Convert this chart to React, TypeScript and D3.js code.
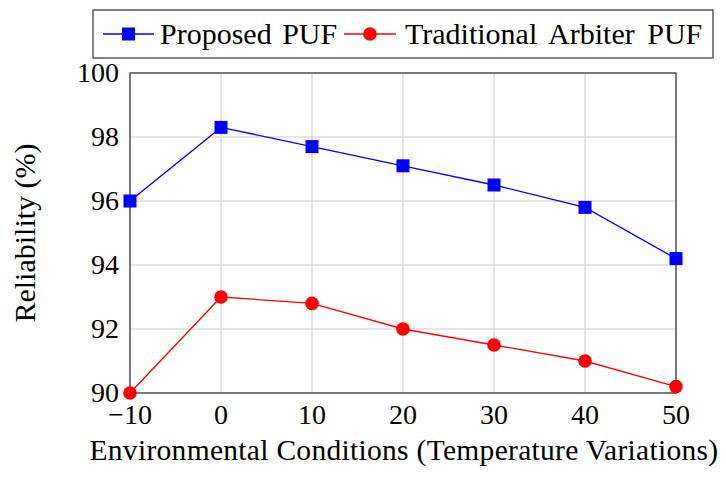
import React, { useEffect, useRef } from 'react';
import * as d3 from 'd3';

// Temperature steps (°C) and reliability (%) of each PUF design
const temperatures = [-10, 0, 10, 20, 30, 40, 50];
const proposedPuf = [96.0, 98.3, 97.7, 97.1, 96.5, 95.8, 94.2];
const arbiterPuf = [90.0, 93.0, 92.8, 92.0, 91.5, 91.0, 90.2];
const yTicks = [90, 92, 94, 96, 98, 100];
const seriesNames = ['Proposed PUF', 'Traditional Arbiter PUF'];

const FONT = '"Liberation Serif", "Times New Roman", serif';

export default function App() {
  const svgRef = useRef<SVGSVGElement | null>(null);

  useEffect(() => {
    const width = 726;
    const height = 482;
    const margin = { top: 73, right: 50, bottom: 89, left: 130 };
    const innerW = width - margin.left - margin.right;
    const innerH = height - margin.top - margin.bottom;

    const svg = d3.select(svgRef.current).attr('width', width).attr('height', height);
    svg.selectAll('*').remove();
    svg.append('rect').attr('width', width).attr('height', height).attr('fill', '#fff');

    const g = svg.append('g').attr('transform', `translate(${margin.left},${margin.top})`);

    const x = d3.scaleLinear().domain([-10, 50]).range([0, innerW]);
    const y = d3.scaleLinear().domain([90, 100]).range([innerH, 0]);

    // Grid
    g.append('g').selectAll('line').data(temperatures).join('line')
      .attr('x1', d => x(d)).attr('x2', d => x(d)).attr('y1', 0).attr('y2', innerH)
      .attr('stroke', '#cbcbcb').attr('stroke-width', 1);
    g.append('g').selectAll('line').data(yTicks).join('line')
      .attr('x1', 0).attr('x2', innerW).attr('y1', d => y(d)).attr('y2', d => y(d))
      .attr('stroke', '#cbcbcb').attr('stroke-width', 1);

    // Frame
    g.append('rect').attr('width', innerW).attr('height', innerH)
      .attr('fill', 'none').attr('stroke', '#333').attr('stroke-width', 1.2);

    // Tick labels
    const fmt = (d: number) => (d < 0 ? `\u2212${Math.abs(d)}` : `${d}`);
    g.append('g').selectAll('text').data(temperatures).join('text')
      .attr('x', d => x(d)).attr('y', innerH + 31)
      .attr('text-anchor', 'middle').attr('font-family', FONT).attr('font-size', 28).attr('fill', '#000')
      .text(d => fmt(d));
    g.append('g').selectAll('text').data(yTicks).join('text')
      .attr('x', -11).attr('y', d => y(d) + 9)
      .attr('text-anchor', 'end').attr('font-family', FONT).attr('font-size', 28).attr('fill', '#000')
      .text(d => d);

    // Axis titles
    svg.append('text').attr('x', margin.left + innerW / 2 + 1).attr('y', 460)
      .attr('text-anchor', 'middle').attr('font-family', FONT).attr('font-size', 29.5)
      .attr('letter-spacing', 0.3).attr('fill', '#000')
      .text('Environmental Conditions (Temperature Variations)');
    svg.append('text').attr('transform', `translate(35,${margin.top + innerH / 2}) rotate(-90)`)
      .attr('text-anchor', 'middle').attr('font-family', FONT).attr('font-size', 30).attr('fill', '#000')
      .text('Reliability (%)');

    const line = d3.line<number>().x((_, i) => x(temperatures[i])).y(d => y(d));

    // Proposed PUF: blue with square markers
    g.append('path').datum(proposedPuf).attr('fill', 'none').attr('stroke', '#0000ff')
      .attr('stroke-width', 1.3).attr('d', line);
    g.append('g').selectAll('rect').data(proposedPuf).join('rect')
      .attr('x', (_, i) => x(temperatures[i]) - 6.5).attr('y', d => y(d) - 6.5)
      .attr('width', 13).attr('height', 13).attr('fill', '#0000ff');

    // Traditional arbiter PUF: red with circle markers
    g.append('path').datum(arbiterPuf).attr('fill', 'none').attr('stroke', '#ff0000')
      .attr('stroke-width', 1.3).attr('d', line);
    g.append('g').selectAll('circle').data(arbiterPuf).join('circle')
      .attr('cx', (_, i) => x(temperatures[i])).attr('cy', d => y(d))
      .attr('r', 6.8).attr('fill', '#ff0000');

    // Legend
    const legend = svg.append('g');
    legend.append('rect').attr('x', 93).attr('y', 10).attr('width', 620).attr('height', 48)
      .attr('fill', '#fff').attr('stroke', '#333').attr('stroke-width', 1.2);
    const ly = 34;
    legend.append('line').attr('x1', 103).attr('x2', 154).attr('y1', ly).attr('y2', ly)
      .attr('stroke', '#0000ff').attr('stroke-width', 1.3);
    legend.append('rect').attr('x', 128.5 - 6.5).attr('y', ly - 6.5).attr('width', 13).attr('height', 13)
      .attr('fill', '#0000ff');
    legend.append('text').attr('x', 160).attr('y', ly + 10).attr('font-family', FONT).attr('font-size', 30)
      .attr('word-spacing', 3).attr('fill', '#000').text(seriesNames[0]);
    legend.append('line').attr('x1', 344).attr('x2', 396).attr('y1', ly).attr('y2', ly)
      .attr('stroke', '#ff0000').attr('stroke-width', 1.3);
    legend.append('circle').attr('cx', 370).attr('cy', ly).attr('r', 6.8).attr('fill', '#ff0000');
    legend.append('text').attr('x', 405).attr('y', ly + 10).attr('font-family', FONT).attr('font-size', 30)
      .attr('word-spacing', 5).attr('fill', '#000').text(seriesNames[1]);
  }, []);

  return (
    <div style={{ position: 'absolute', left: 0, top: 0 }}>
      <svg ref={svgRef} style={{ display: 'block' }} />
    </div>
  );
}
